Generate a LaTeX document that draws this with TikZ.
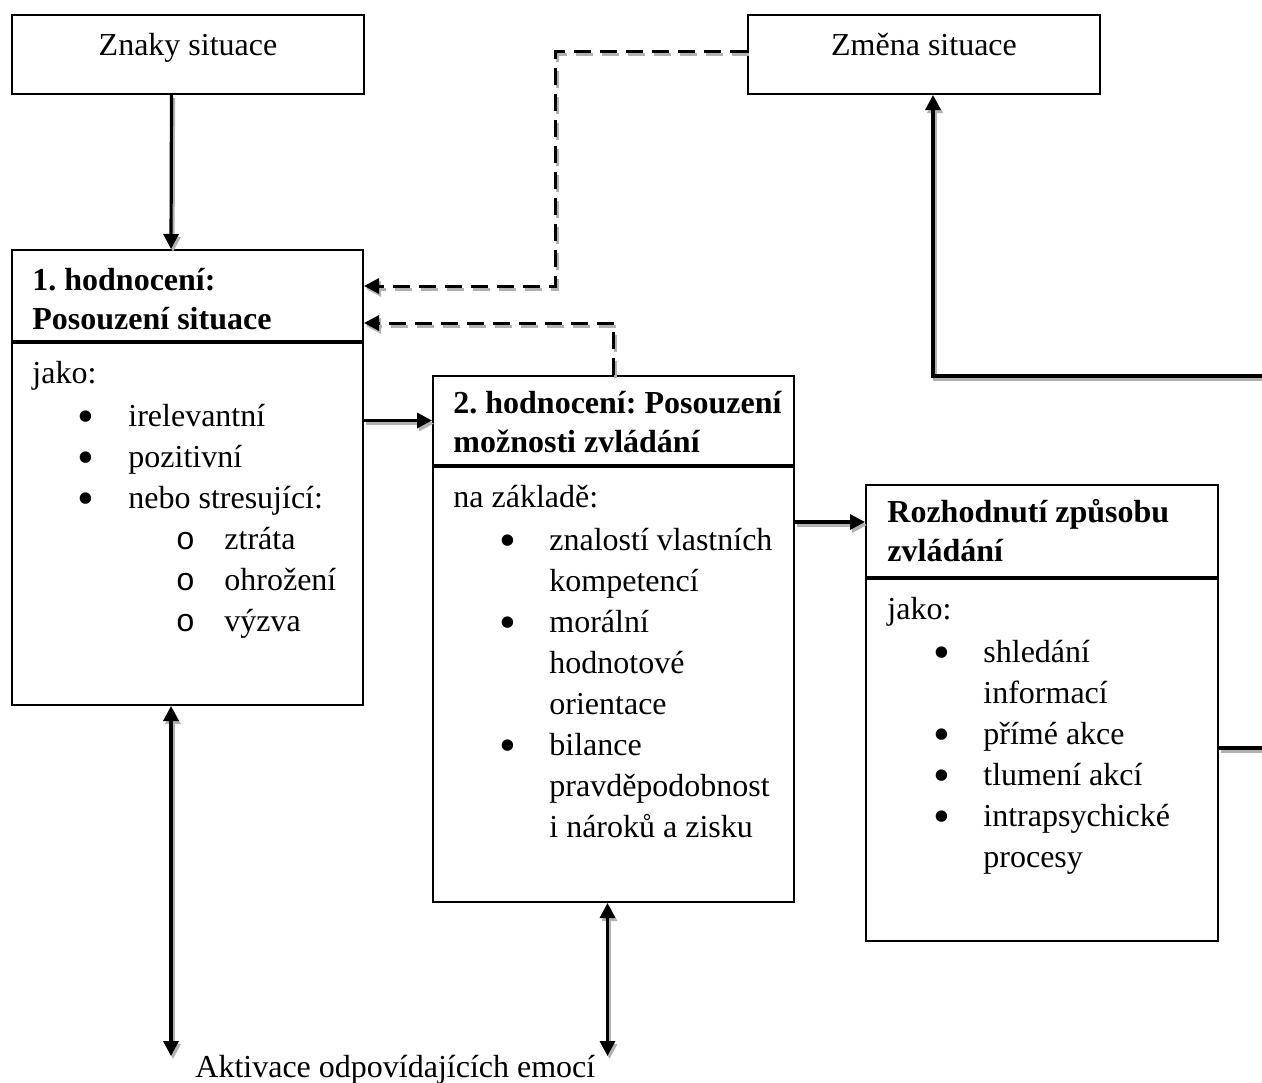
\documentclass[tikz,border=0pt]{standalone}
\usepackage{fontspec}
\setmainfont{Liberation Serif}
\newfontfamily\monofont{Liberation Mono}
\usetikzlibrary{arrows.meta,calc,positioning}

% list lines inside the boxes
\newcommand{\bigbul}{\raisebox{-3pt}[0pt][0pt]{\scalebox{1.5}{\textbullet}}}
\newcommand{\listbul}[1]{\hspace*{27pt}\makebox[0pt]{\bigbul}\hspace*{21pt}#1}
\newcommand{\listsub}[1]{\hspace*{76.5pt}\makebox[0pt]{{\monofont o}}\hspace*{19.5pt}#1}
\newcommand{\listcont}[1]{\hspace*{48pt}#1}

\tikzset{
  >={Triangle[length=7.5pt,width=7.5pt]},
  box/.style={draw, line width=1pt, inner sep=0pt, anchor=north west},
  plaintext/.style={font=\fontsize{16pt}{20.5pt}\selectfont, inner sep=0pt},
  headtext/.style={anchor=north west, align=left, inner sep=0pt,
    font=\fontsize{16pt}{19.5pt}\selectfont\bfseries},
  bodytext/.style={anchor=north west, align=left, inner sep=0pt,
    font=\fontsize{16pt}{20.5pt}\selectfont},
  shade/.style={draw=gray!60, transform canvas={shift={(1pt,-1.5pt)}}},
  ln/.style={line width=1.6pt, preaction={shade, line width=1.6pt}},
  arr/.style={line width=1.6pt, ->, preaction={shade, line width=1.6pt, ->}},
  dblarr/.style={line width=1.6pt, <->, preaction={shade, line width=1.6pt, <->}},
  dsh/.style={line width=1.5pt, ->, dash pattern=on 8.5pt off 4.5pt,
    preaction={shade, line width=1.5pt, ->, dash pattern=on 8.5pt off 4.5pt}},
}

\begin{document}
\frenchspacing
\begin{tikzpicture}[x=0.5pt, y=-0.5pt]
  \useasboundingbox (0,0) rectangle (1262,1082);

  % top boxes
  \node[box, minimum width=176pt, minimum height=39.5pt] (znaky) at (11,14) {};
  \node[plaintext, anchor=base] (znakyT) at ($(znaky.north)+(0,41)$) {Znaky situace};
  \node[box, minimum width=176pt, minimum height=39.5pt] (zmena) at (747,14) {};
  \node[plaintext, anchor=base] (zmenaT) at ($(zmena.north)+(0,41)$) {Změna situace};

  % 1. hodnoceni
  \node[box, minimum width=175.5pt, minimum height=45.5pt] (h1) at (11,249) {};
  \node[box, minimum width=175.5pt, minimum height=181pt] (b1) at (h1.south west) {};
  \node[headtext] (h1T) at ($(h1.north west)+(21,13.7)$) {\strut 1. hodnocení:\\Posouzení situace};
  \node[bodytext] (b1T) at ($(b1.north west)+(21,12.3)$) {\strut jako:\\[1pt]
    \listbul{irelevantní}\\
    \listbul{pozitivní}\\
    \listbul{nebo stresující:}\\
    \listsub{ztráta}\\
    \listsub{ohrožení}\\
    \listsub{výzva}};

  % 2. hodnoceni
  \node[box, minimum width=180.5pt, minimum height=44.5pt] (h2) at (432,375) {};
  \node[box, minimum width=180.5pt, minimum height=217.5pt] (b2) at (h2.south west) {};
  \node[headtext] (h2T) at ($(h2.north west)+(21,10.7)$) {\strut 2. hodnocení: Posouzení\\možnosti zvládání};
  \node[bodytext] (b2T) at ($(b2.north west)+(21,12.3)$) {\strut na základě:\\[1pt]
    \listbul{znalostí vlastních}\\
    \listcont{kompetencí}\\
    \listbul{morální}\\
    \listcont{hodnotové}\\
    \listcont{orientace}\\
    \listbul{bilance}\\
    \listcont{pravděpodobnost}\\
    \listcont{i nároků a zisku}};

  % rozhodnuti
  \node[box, minimum width=176pt, minimum height=46pt] (h3) at (865,484) {};
  \node[box, minimum width=176pt, minimum height=181pt] (b3) at (h3.south west) {};
  \node[headtext] (h3T) at ($(h3.north west)+(22,10.7)$) {\strut Rozhodnutí způsobu\\zvládání};
  \node[bodytext] (b3T) at ($(b3.north west)+(22,12.3)$) {\strut jako:\\[1pt]
    \listbul{shledání}\\
    \listcont{informací}\\
    \listbul{přímé akce}\\
    \listbul{tlumení akcí}\\
    \listbul{intrapsychické}\\
    \listcont{procesy}};

  \node[plaintext, anchor=base west] (emoce) at (195,1077) {Aktivace odpovídajících emocí};

  % connectors
  \draw[arr] ($(znaky.south)+(-16.5,0)$) -- ($(h1.north)+(-16.5,0)$);
  \draw[dsh] ($(zmena.west)+(0,-3)$) -- ++(-192,0) |- ($(h1.east)+(0,-9.5)$);
  \draw[dsh] (h2.north) |- ($(h1.east)+(0,27.5)$);
  \draw[arr] (h2.west -| b1.east) -- (h2.west);
  \draw[arr] ($(h3.west -| b2.east)+(0,-9)$) -- ($(h3.west)+(0,-9)$);
  \coordinate (edgeR) at (1262,376);
  \draw[arr] (edgeR) -| ($(zmena.south)+(9,0)$);
  \draw[ln] ($(b3.east)+(0,-12)$) -- ++(50,0);
  \draw[dblarr] ($(b1.south)+(-16.5,0)$) -- ++(0,350);
  \draw[dblarr] ($(b2.south)+(-6,0)$) -- ++(0,153);
\end{tikzpicture}
\end{document}
